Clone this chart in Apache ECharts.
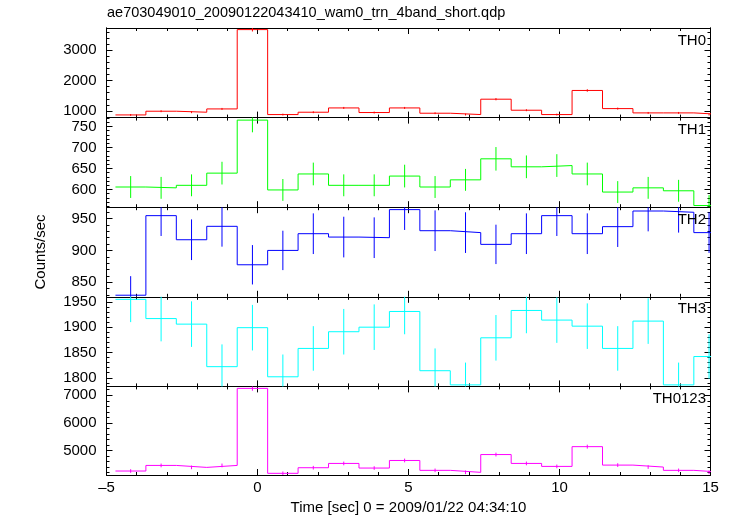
<!DOCTYPE html>
<html><head><meta charset="utf-8">
<script src="https://cdn.jsdelivr.net/npm/echarts@6/dist/echarts.min.js"></script>
<style>html,body{margin:0;padding:0;background:#fff}#c{width:733px;height:516px}</style>
</head><body><div id="c"></div>
<script>
// ---- data ----
const binCenters = [-4.200,-3.192,-2.184,-1.176,-0.168,0.840,1.848,2.856,3.864,4.872,5.880,6.888,7.896,8.904,9.912,10.920,11.928,12.936,13.944,14.952];
const binHalfWidth = 0.504;
const panelNames = ['TH0','TH1','TH2','TH3','TH0123'];
const th0 = [868,990,957,1066,3682,880,957,1099,947,1099,924,880,1387,1023,880,1675,1077,935,935,880];
const th0Err = [30,32,31,33,62,30,31,33,31,33,30,30,37,32,30,41,33,31,31,30];
const th1 = [606,604,610,639,765,599,637,610,610,632,606,623,673,654,657,637,594,604,597,562];
const th1Err = [26,26,26,27,29,26,27,26,26,27,26,26,28,27,27,27,26,26,26,25];
const th2 = [829.5,954.7,916.8,937.9,877.4,900,926.3,921,920,964.2,931,928,909.5,926.3,954.7,926.3,937.4,962,960,928];
const th2Err = [30,32,32,32,31,31,32,32,32,32,32,32,31,32,32,32,32,32,32,32];
const th3 = [1955,1917,1906,1822,1899,1802,1858,1891,1900,1931,1814,1786,1879,1933,1914,1902,1858,1912,1786,1842];
const th3Err = [45,45,45,44,45,44,44,45,45,45,44,44,45,45,45,45,44,45,44,44];
const th0123 = [4262,4464,4393,4464,7250,4179,4381,4536,4369,4643,4286,4214,4857,4536,4429,5143,4476,4405,4286,4214];
const th0123Err = [65,67,66,67,85,65,66,67,66,68,65,65,69,67,66,71,67,66,65,65];
// axis ranges and ticks
const yMin = [780, 558, 827, 1783, 4118];
const yMax = [3735, 771, 968, 1960, 7321];
const yMajorTicks = [[1000,2000,3000],[600,650,700,750],[850,900,950],[1800,1850,1900,1950],[5000,6000,7000]];
const yMinorStep = [200, 10, 10, 10, 200];
const xTickLabels = [-5, 0, 5, 10, 15];

const values = [th0, th1, th2, th3, th0123];
const errors = [th0Err, th1Err, th2Err, th3Err, th0123Err];
const colors = ['#ff0000','#00ff00','#0000ff','#00ffff','#ff00ff'];

function minorTicks(i){
  const out = [];
  const s = yMinorStep[i];
  for (let v = Math.ceil(yMin[i]/s)*s; v <= yMax[i]; v += s) out.push(Math.round(v*100)/100);
  return out;
}

const FONT = 'Liberation Sans';
const nP = 5, gTop = 28, gH = 89.6, gLeft = 106.5, gRight = 22.5;
const grids = [], xAxes = [], yAxes = [], series = [], titles = [];

titles.push({text:'ae703049010_20090122043410_wam0_trn_4band_short.qdp', left: 107, top: 5, padding: 0,
  textStyle:{fontFamily:FONT, fontSize:14.5, fontWeight:'normal', color:'#000'}});

for (let i = 0; i < nP; i++) {
  grids.push({left: gLeft, right: gRight, top: gTop + gH*i, height: gH, containLabel:false});
  const last = i === nP-1;
  const xBase = {type:'value', gridIndex:i, min:-5, max:15, interval:5,
    axisLine:{show:true, onZero:false, lineStyle:{color:'#000', width:1}},
    axisTick:{show:true, inside:true, length:6, lineStyle:{color:'#000'}},
    minorTick:{show:true, splitNumber:5, length:3, lineStyle:{color:'#000'}},
    splitLine:{show:false}, minorSplitLine:{show:false}};
  xAxes.push(Object.assign({}, xBase, {position:'bottom',
    axisLabel:{show:last, fontFamily:FONT, fontSize:15, color:'#000', margin:5,
      customValues: xTickLabels,
      formatter: v => String(v).replace('-', '\u2013')},
    name: last ? 'Time [sec] 0 = 2009/01/22 04:34:10' : '', nameLocation:'middle', nameGap:25,
    nameTextStyle:{fontFamily:FONT, fontSize:15, color:'#000'}}));
  xAxes.push(Object.assign({}, xBase, {position:'top', axisLabel:{show:false}}));

  const yBase = {type:'value', gridIndex:i, min:yMin[i], max:yMax[i],
    axisLine:{show:true, onZero:false, lineStyle:{color:'#000', width:1}},
    splitLine:{show:false}};
  const mid = i === 2;
  yAxes.push(Object.assign({}, yBase, {position:'left',
    axisTick:{show:true, inside:true, length:6, customValues: yMajorTicks[i], lineStyle:{color:'#000'}},
    axisLabel:{show:true, customValues: yMajorTicks[i], fontFamily:FONT, fontSize:15, color:'#000', margin:10,
      formatter: v => String(v)},
    name: mid ? 'Counts/sec' : '', nameLocation:'middle', nameGap:58,
    nameTextStyle:{fontFamily:FONT, fontSize:15, color:'#000'}}));
  yAxes.push(Object.assign({}, yBase, {position:'left',
    axisTick:{show:true, inside:true, length:3, customValues: minorTicks(i), lineStyle:{color:'#000'}},
    axisLabel:{show:false}}));
  yAxes.push(Object.assign({}, yBase, {position:'right',
    axisTick:{show:true, inside:true, length:6, customValues: yMajorTicks[i], lineStyle:{color:'#000'}},
    axisLabel:{show:false}}));
  yAxes.push(Object.assign({}, yBase, {position:'right',
    axisTick:{show:true, inside:true, length:3, customValues: minorTicks(i), lineStyle:{color:'#000'}},
    axisLabel:{show:false}}));

  const stepData = [];
  binCenters.forEach((c, j) => {
    stepData.push([c - binHalfWidth, values[i][j]]);
    stepData.push([c + binHalfWidth, values[i][j]]);
  });
  series.push({type:'line', xAxisIndex:2*i, yAxisIndex:4*i, data: stepData, showSymbol:false, symbol:'none',
    clip:true, lineStyle:{color:colors[i], width:1}, itemStyle:{color:colors[i]}, silent:true, z:3});
  const col = colors[i];
  series.push({type:'custom', xAxisIndex:2*i, yAxisIndex:4*i, clip:true, silent:true, z:4,
    data: binCenters.map((c, j) => [c, values[i][j] - errors[i][j], values[i][j] + errors[i][j]]),
    encode:{x:0, y:[1,2]},
    renderItem: (params, api) => {
      const p1 = api.coord([api.value(0), api.value(1)]);
      const p2 = api.coord([api.value(0), api.value(2)]);
      return {type:'line', shape:{x1:p1[0], y1:p1[1], x2:p2[0], y2:p2[1]}, style:{stroke:col, lineWidth:1}};
    }});

  titles.push({text: panelNames[i], right: 27, top: gTop + gH*i + 5, padding: 0,
    textStyle:{fontFamily:FONT, fontSize:15, fontWeight:'normal', color:'#000'}});
}

const chart = echarts.init(document.getElementById('c'), null, {renderer:'canvas'});
chart.setOption({animation:false, backgroundColor:'#fff', title: titles, grid: grids,
  xAxis: xAxes, yAxis: yAxes, series: series});
</script></body></html>
